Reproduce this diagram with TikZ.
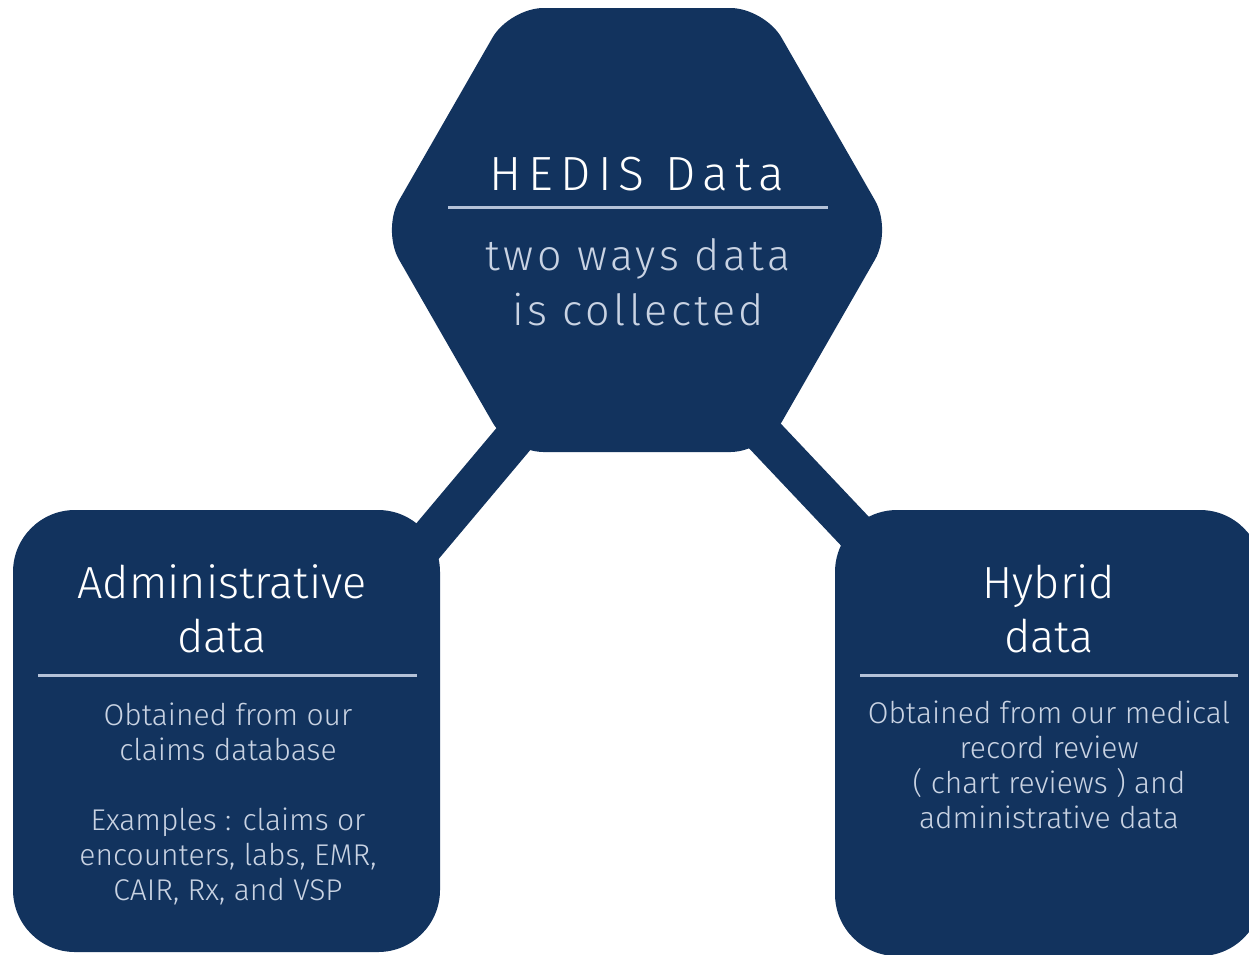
\documentclass[tikz,border=0pt]{standalone}
\usepackage{fontspec}
\setmainfont{Fira Sans Light}
\newfontfamily\titlefont{Fira Sans Light}[LetterSpace=15]
\newfontfamily\subfont{Fira Sans Light}[LetterSpace=8]
\definecolor{navy}{HTML}{12335E}
\definecolor{rulecol}{HTML}{B4C2D8}
\definecolor{paletext}{HTML}{C9D3E3}
\tikzset{
  shapefill/.style={fill=navy, draw=none},
  bar/.style={draw=navy, line width=40pt},
  rulebar/.style={draw=rulecol, line width=3pt},
  titletext/.style={text=white, inner sep=0pt, align=center, font=\titlefont\fontsize{48}{56}\selectfont},
  subtext/.style={text=paletext, inner sep=0pt, align=center, font=\subfont\fontsize{43}{55}\selectfont},
  boxtitle/.style={text=white, inner sep=0pt, align=center, font=\fontsize{45}{54}\selectfont},
  bodytext/.style={text=paletext, inner sep=0pt, align=center, font=\fontsize{30}{35}\selectfont},
}
\begin{document}
\begin{tikzpicture}[x=1pt,y=-1pt]
\useasboundingbox (0,0) rectangle (1249,954);
\clip (0,0) rectangle (1249,954);
% connector end points
\coordinate (hexA) at (563,380);
\coordinate (admA) at (378,600);
\coordinate (hexB) at (712,380);
\coordinate (hybB) at (920,600);
\draw[bar] (hexA) -- (admA);
\draw[bar] (hexB) -- (hybB);
% hexagon
\fill[shapefill, rounded corners=34pt]
  (892,230) -- (764.5,8) -- (509.5,8) -- (382,230) -- (509.5,452) -- (764.5,452) -- cycle;
% boxes
\fill[shapefill, rounded corners=62pt] (13,510) rectangle (440,952);
\fill[shapefill, rounded corners=62pt] (835,510) rectangle (1262,956);
% hexagon texts
\node[titletext, anchor=base] (hedis) at (637,190) {HEDIS Data};
\coordinate (hrL) at (448,207);
\coordinate (hrR) at (828,207);
\draw[rulebar] (hrL) -- (hrR);
\node[subtext, anchor=base] (ways) at (638,325) {two ways data\\is collected};
% left box texts
\node[boxtitle, anchor=base] (adm) at (222,652) {Administrative\\data};
\coordinate (arL) at (38,675);
\coordinate (arR) at (417,675);
\draw[rulebar] (arL) -- (arR);
\node[bodytext, anchor=base] (admbody) at (228,900) {Obtained from our\\claims database\\[35pt]Examples : claims or\\encounters, labs, EMR,\\CAIR, Rx, and VSP};
% right box texts
\node[boxtitle, anchor=base] (hyb) at (1049,652) {Hybrid\\data};
\coordinate (brL) at (860,675);
\coordinate (brR) at (1238,675);
\draw[rulebar] (brL) -- (brR);
\node[bodytext, anchor=base] (hybbody) at (1049,828) {Obtained from our medical\\record review\\( chart reviews ) and\\administrative data};
\end{tikzpicture}
\end{document}
